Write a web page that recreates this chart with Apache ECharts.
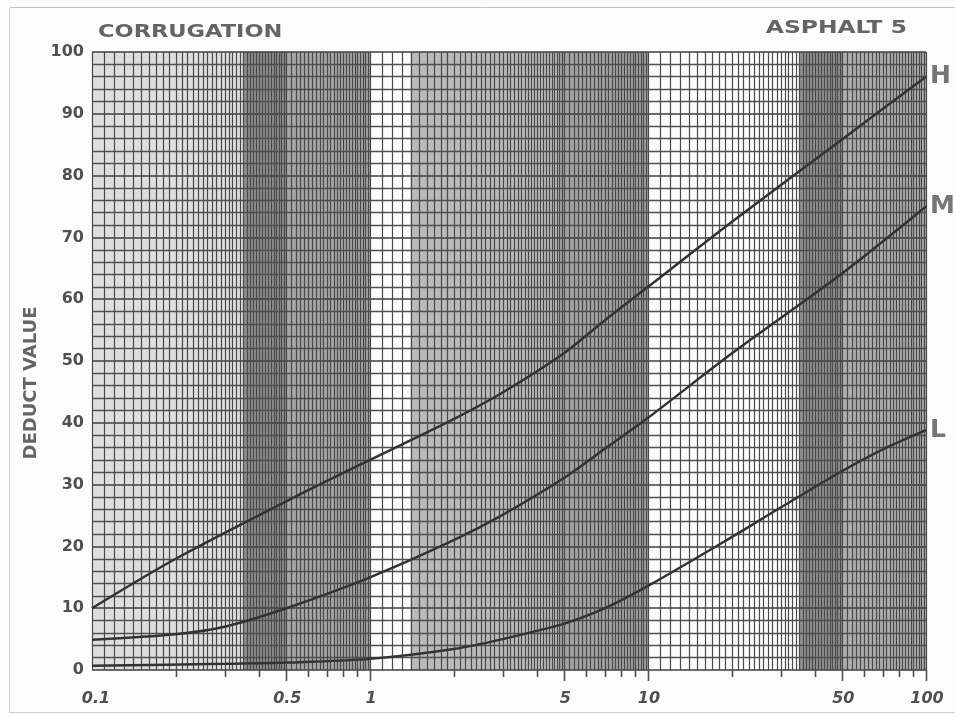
<!DOCTYPE html>
<html>
<head>
<meta charset="utf-8">
<script src="https://cdn.jsdelivr.net/npm/echarts@6/dist/echarts.min.js"></script>
<style>
  html, body { margin: 0; padding: 0; background: #fcfcfc; }
  #chart { width: 955px; height: 715px; }
</style>
</head>
<body>
<div id="chart"></div>
<script>
// Deduct value curves for corrugation, by severity level (H / M / L)
const densityH = [0.1, 0.2, 0.5, 1, 2, 3, 5, 7, 10, 20, 50, 100];
const deductH  = [10, 18, 27.3, 34, 40.6, 44.9, 51.3, 56.6, 62, 72.5, 85.9, 96];

const densityM = [0.1, 0.2, 0.3, 0.5, 1, 2, 3, 5, 7, 10, 20, 50, 100];
const deductM  = [4.9, 5.8, 7, 10, 15, 21, 25.1, 31.1, 35.8, 40.8, 51.2, 64.2, 75];

const densityL = [0.1, 0.3, 0.5, 1, 2, 3, 5, 7, 10, 20, 30, 50, 70, 100];
const deductL  = [0.7, 1, 1.2, 1.8, 3.4, 5, 7.5, 10, 13.6, 21.5, 26.3, 32.2, 35.7, 38.8];

// Labelled positions on the density axis
const xLabelValues = [0.1, 0.5, 1, 5, 10, 50, 100];
const xLabelTexts  = ['0.1', '0.5', '1', '5', '10', '50', '100'];

// Tick marks under the axis (1..9 of each decade)
const xTickValues = [0.2, 0.3, 0.4, 0.5, 0.6, 0.7, 0.8, 0.9, 1,
                     2, 3, 4, 5, 6, 7, 8, 9, 10,
                     20, 30, 40, 50, 60, 70, 80, 90, 100];
const xLongTicks = [0.5, 1, 5, 10, 50, 100];

// Semi-log paper ruling: vertical lines for each decade
function paperRulings() {
  const out = [];
  [0.1, 1, 10].forEach(function (d) {
    for (let i = 0; i < 10; i++) out.push(+(d + i * d / 10).toFixed(6));      // 1..2
    for (let i = 0; i < 30; i++) out.push(+(2 * d + i * d / 10).toFixed(6));  // 2..5
    for (let i = 0; i < 25; i++) out.push(+(5 * d + i * d / 5).toFixed(6));   // 5..10
  });
  out.push(100);
  return out;
}
const rulings = paperRulings();

// Shaded stripes of the printed paper
const paperBands = [
  [0.1, 0.35, '#dedede'],
  [0.35, 0.5, '#8e8e8e'],
  [0.5, 1, '#a6a6a6'],
  [1.4, 4.8, '#bababa'],
  [4.8, 10, '#a2a2a2'],
  [35, 50, '#909090'],
  [50, 100, '#adadad']
];

const chart = echarts.init(document.getElementById('chart'), null, { renderer: 'canvas' });

const FONT = '"DejaVu Sans", "Liberation Sans", sans-serif';

function curve(name, xs, ys) {
  return {
    name: name,
    type: 'line',
    smooth: 0.3,
    symbol: 'none',
    z: 10,
    data: xs.map(function (x, i) { return [x, ys[i]]; }),
    lineStyle: { color: '#333333', width: 2.5 },
    endLabel: {
      show: true,
      formatter: '{a}',
      distance: 4,
      color: '#767676',
      fontFamily: FONT,
      fontWeight: 'bold',
      fontSize: 25
    },
    emphasis: { disabled: true }
  };
}

const option = {
  backgroundColor: '#fcfcfc',
  animation: false,
  grid: { left: 92, right: 29, top: 52, bottom: 45 },
  xAxis: {
    type: 'log',
    logBase: 10,
    min: 0.1,
    max: 100,
    axisLine: { show: false },
    axisTick: { show: false },
    axisLabel: { show: false },
    splitLine: { show: false }
  },
  yAxis: {
    type: 'value',
    min: 0,
    max: 100,
    interval: 10,
    axisLine: { show: false },
    axisTick: { show: false },
    axisLabel: {
      margin: 8,
      color: '#505050',
      fontFamily: FONT,
      fontWeight: 'bold',
      fontSize: 16
    },
    splitLine: { show: true, lineStyle: { color: '#3e3e3e', width: 1.6 } },
    minorTick: { show: false, splitNumber: 5 },
    minorSplitLine: { show: true, lineStyle: { color: '#505050', width: 1.3 } }
  },
  graphic: [
    { type: 'line', shape: { x1: 10, y1: 7.5, x2: 955, y2: 7.5 }, style: { stroke: '#c4c4c4', lineWidth: 1 } },
    { type: 'line', shape: { x1: 9.5, y1: 8, x2: 9.5, y2: 713 }, style: { stroke: '#cccccc', lineWidth: 1 } },
    { type: 'line', shape: { x1: 10, y1: 712.5, x2: 955, y2: 712.5 }, style: { stroke: '#cccccc', lineWidth: 1 } },
    {
      type: 'text', x: 98, y: 23, scaleX: 1.25,
      style: { text: 'CORRUGATION', font: 'bold 18px ' + FONT, fill: '#646464' }
    },
    {
      type: 'text', x: 907, y: 19, scaleX: 1.3,
      style: { text: 'ASPHALT 5', font: 'bold 18px ' + FONT, fill: '#646464', align: 'right' }
    },
    {
      type: 'text', x: 31, y: 383, rotation: Math.PI / 2,
      style: { text: 'DEDUCT VALUE', font: 'bold 18px ' + FONT, fill: '#646464', align: 'center', verticalAlign: 'middle' }
    }
  ],
  series: [
    {
      // paper stripes
      type: 'custom',
      z: -5,
      silent: true,
      data: paperBands.map(function (b) { return [b[0], b[1]]; }),
      encode: { x: [0, 1] },
      renderItem: function (params, api) {
        const a = api.coord([api.value(0), 100]);
        const b = api.coord([api.value(1), 0]);
        return {
          type: 'rect',
          shape: { x: a[0], y: a[1], width: b[0] - a[0], height: b[1] - a[1] },
          style: { fill: paperBands[params.dataIndex][2] }
        };
      }
    },
    {
      // vertical rulings
      type: 'custom',
      z: 1,
      silent: true,
      data: rulings.map(function (v) { return [v, 0]; }),
      encode: { x: 0, y: 1 },
      renderItem: function (params, api) {
        const v = api.value(0);
        const a = api.coord([v, 0]);
        const b = api.coord([v, 100]);
        const x = Math.round(a[0]) + 0.5;
        return {
          type: 'line',
          shape: { x1: x, y1: a[1], x2: x, y2: b[1] },
          style: { stroke: '#4a4a4a', lineWidth: 1.2 }
        };
      }
    },
    {
      // tick marks under the axis
      type: 'custom',
      z: 1,
      silent: true,
      data: xTickValues.map(function (v) { return [v, 0]; }),
      encode: { x: 0, y: 1 },
      renderItem: function (params, api) {
        const v = api.value(0);
        const a = api.coord([v, 0]);
        const x = Math.round(a[0]) + 0.5;
        const len = xLongTicks.indexOf(v) >= 0 ? 11 : 7;
        return {
          type: 'line',
          shape: { x1: x, y1: a[1], x2: x, y2: a[1] + len },
          style: { stroke: '#505050', lineWidth: 1.6 }
        };
      }
    },
    {
      // density labels
      type: 'custom',
      z: 1,
      silent: true,
      data: xLabelValues.map(function (v) { return [v, 0]; }),
      encode: { x: 0, y: 1 },
      renderItem: function (params, api) {
        const a = api.coord([api.value(0), 0]);
        return {
          type: 'text',
          x: a[0] + (params.dataIndex === 0 ? 4 : 1),
          y: a[1] + 29,
          style: {
            text: xLabelTexts[params.dataIndex],
            font: 'italic bold 16px ' + FONT,
            fill: '#505050',
            align: 'center',
            verticalAlign: 'middle'
          }
        };
      }
    },
    curve('H', densityH, deductH),
    curve('M', densityM, deductM),
    curve('L', densityL, deductL)
  ]
};

chart.setOption(option);
</script>
</body>
</html>
